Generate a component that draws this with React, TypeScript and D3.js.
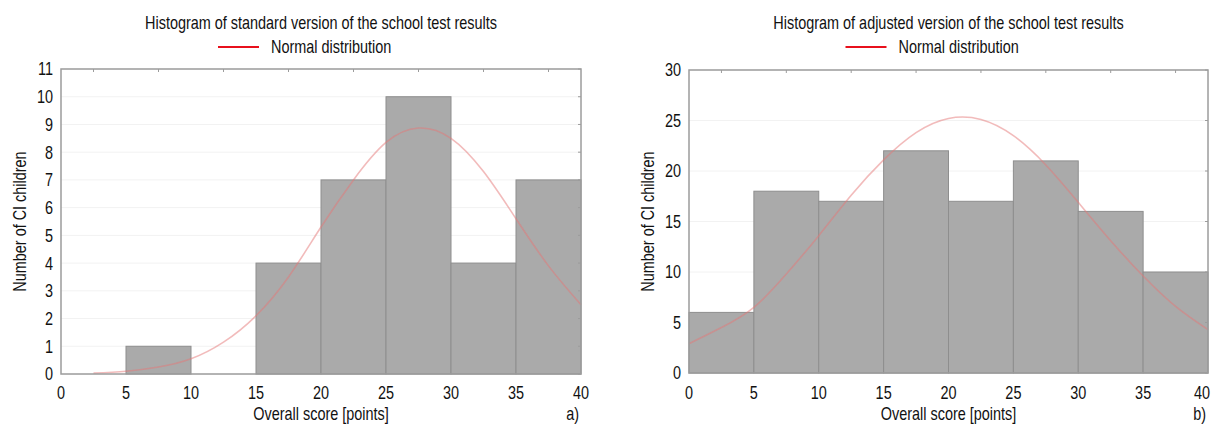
import React from "react";
import * as d3 from "d3";

// ---------- data ----------
const binStarts = [0, 5, 10, 15, 20, 25, 30, 35];
const binWidth = 5;
const xTicks = [0, 5, 10, 15, 20, 25, 30, 35, 40];

const standardCounts = [0, 1, 0, 4, 7, 10, 4, 7];
const adjustedCounts = [6, 18, 17, 22, 17, 21, 16, 10];

const standardYTicks = [0, 1, 2, 3, 4, 5, 6, 7, 8, 9, 10, 11];
const adjustedYTicks = [0, 5, 10, 15, 20, 25, 30];

const standardCurveX = [2.5, 5, 7.5, 10, 12.5, 15, 17.5, 20, 22.5, 25, 27.5, 30, 32.5, 35, 37.5, 40];
const standardCurveY = [0.03, 0.1, 0.25, 0.55, 1.15, 2.1, 3.5, 5.3, 7.0, 8.35, 8.87, 8.5, 7.3, 5.6, 3.9, 2.5];

const adjustedCurveX = [0, 2.5, 5, 7.5, 10, 12.5, 15, 17.5, 20, 22.5, 25, 27.5, 30, 32.5, 35, 37.5, 40];
const adjustedCurveY = [2.9, 4.5, 6.5, 9.8, 13.6, 17.6, 21.1, 23.8, 25.2, 25.1, 23.5, 20.6, 16.9, 13.1, 9.6, 6.6, 4.3];

const titles = [
  "Histogram of standard version of the school test results",
  "Histogram of adjusted version of the school test results",
];
const legendLabel = "Normal distribution";
const xLabel = "Overall score [points]";
const yLabel = "Number of CI children";
const panelTags = ["a)", "b)"];

// ---------- styling ----------
const FONT = "'Liberation Sans', Arial, sans-serif";
const FS = 18.5;
const SX = 0.78; // horizontal condensing to mimic a condensed face

type TProps = {
  x: number;
  y: number;
  anchor?: "start" | "middle" | "end";
  rotate?: number;
  children: React.ReactNode;
};

function T({ x, y, anchor = "middle", rotate = 0, children }: TProps) {
  return (
    <text
      transform={`translate(${x},${y}) rotate(${rotate}) scale(${SX},1)`}
      dy="0.35em"
      textAnchor={anchor}
      fontFamily={FONT}
      fontSize={FS}
      fill="#111"
    >
      {children}
    </text>
  );
}

type PanelProps = {
  x0: number;
  x1: number;
  yTop: number;
  yBot: number;
  counts: number[];
  yMax: number;
  yTicks: number[];
  curveX: number[];
  curveY: number[];
  title: string;
  tag: string;
};

function Panel(p: PanelProps) {
  const x = d3.scaleLinear().domain([0, 40]).range([p.x0, p.x1]);
  const y = d3.scaleLinear().domain([0, p.yMax]).range([p.yBot, p.yTop]);
  const cx = (p.x0 + p.x1) / 2;
  const pts: [number, number][] = p.curveX.map((v, i) => [v, p.curveY[i]]);
  const line = d3
    .line<[number, number]>()
    .x((d) => x(d[0]))
    .y((d) => y(d[1]))
    .curve(d3.curveNatural);
  const frame = "#9c9c9c";
  return (
    <g>
      {p.yTicks.map((t) => (
        <line key={"g" + t} x1={p.x0} x2={p.x1} y1={y(t)} y2={y(t)} stroke="#f2f2f2" strokeWidth={1} />
      ))}
      {binStarts.map((b, i) =>
        p.counts[i] > 0 ? (
          <rect
            key={"b" + i}
            x={x(b)}
            y={y(p.counts[i])}
            width={x(b + binWidth) - x(b)}
            height={y(0) - y(p.counts[i])}
            fill="#aaaaaa"
            stroke="#8e8e8e"
            strokeWidth={1}
          />
        ) : null
      )}
      <path d={line(pts) || ""} fill="none" stroke="rgb(230,120,120)" strokeOpacity={0.5} strokeWidth={1.6} />
      <rect x={p.x0} y={p.yTop} width={p.x1 - p.x0} height={p.yBot - p.yTop} fill="none" stroke={frame} strokeWidth={1.5} />
      {binStarts.map((b, i) => (
        <line key={"tt" + i} x1={x(b + binWidth / 2)} x2={x(b + binWidth / 2)} y1={p.yTop} y2={p.yTop + 3} stroke={frame} strokeWidth={1} />
      ))}
      {p.yTicks.map((t) => (
        <line key={"tr" + t} x1={p.x1} x2={p.x1 - 3} y1={y(t)} y2={y(t)} stroke={frame} strokeWidth={1} />
      ))}
      {p.yTicks.map((t) => (
        <T key={"yl" + t} x={p.x0 - 8} y={y(t)} anchor="end">
          {t}
        </T>
      ))}
      {xTicks.map((t) => (
        <T key={"xl" + t} x={Math.min(x(t), 1202)} y={393}>
          {t}
        </T>
      ))}
      <T x={cx} y={414}>
        {xLabel}
      </T>
      <text
        transform={`translate(${p.x0 - 41},${(p.yTop + p.yBot) / 2}) rotate(-90) scale(${SX},1)`}
        dy="0.35em"
        textAnchor="middle"
        fontFamily={FONT}
        fontSize={FS}
        fill="#111"
      >
        {yLabel}
      </text>
      <T x={p.x1 - 2} y={414} anchor="end">
        {p.tag}
      </T>
      <T x={cx} y={23}>
        {p.title}
      </T>
      <line x1={cx - 103} x2={cx - 62} y1={47} y2={47} stroke="#e8101c" strokeWidth={2} />
      <T x={cx - 50} y={47} anchor="start">
        {legendLabel}
      </T>
    </g>
  );
}

export default function App() {
  return (
    <svg
      width={1211}
      height={432}
      viewBox="0 0 1211 432"
      style={{ position: "absolute", left: 0, top: 0, background: "#fff" }}
    >
      <rect x={0} y={0} width={1211} height={432} fill="#fff" />
      <Panel
        x0={61}
        x1={581}
        yTop={69}
        yBot={374}
        counts={standardCounts}
        yMax={11}
        yTicks={standardYTicks}
        curveX={standardCurveX}
        curveY={standardCurveY}
        title={titles[0]}
        tag={panelTags[0]}
      />
      <Panel
        x0={689}
        x1={1208}
        yTop={70}
        yBot={373}
        counts={adjustedCounts}
        yMax={30}
        yTicks={adjustedYTicks}
        curveX={adjustedCurveX}
        curveY={adjustedCurveY}
        title={titles[1]}
        tag={panelTags[1]}
      />
    </svg>
  );
}
